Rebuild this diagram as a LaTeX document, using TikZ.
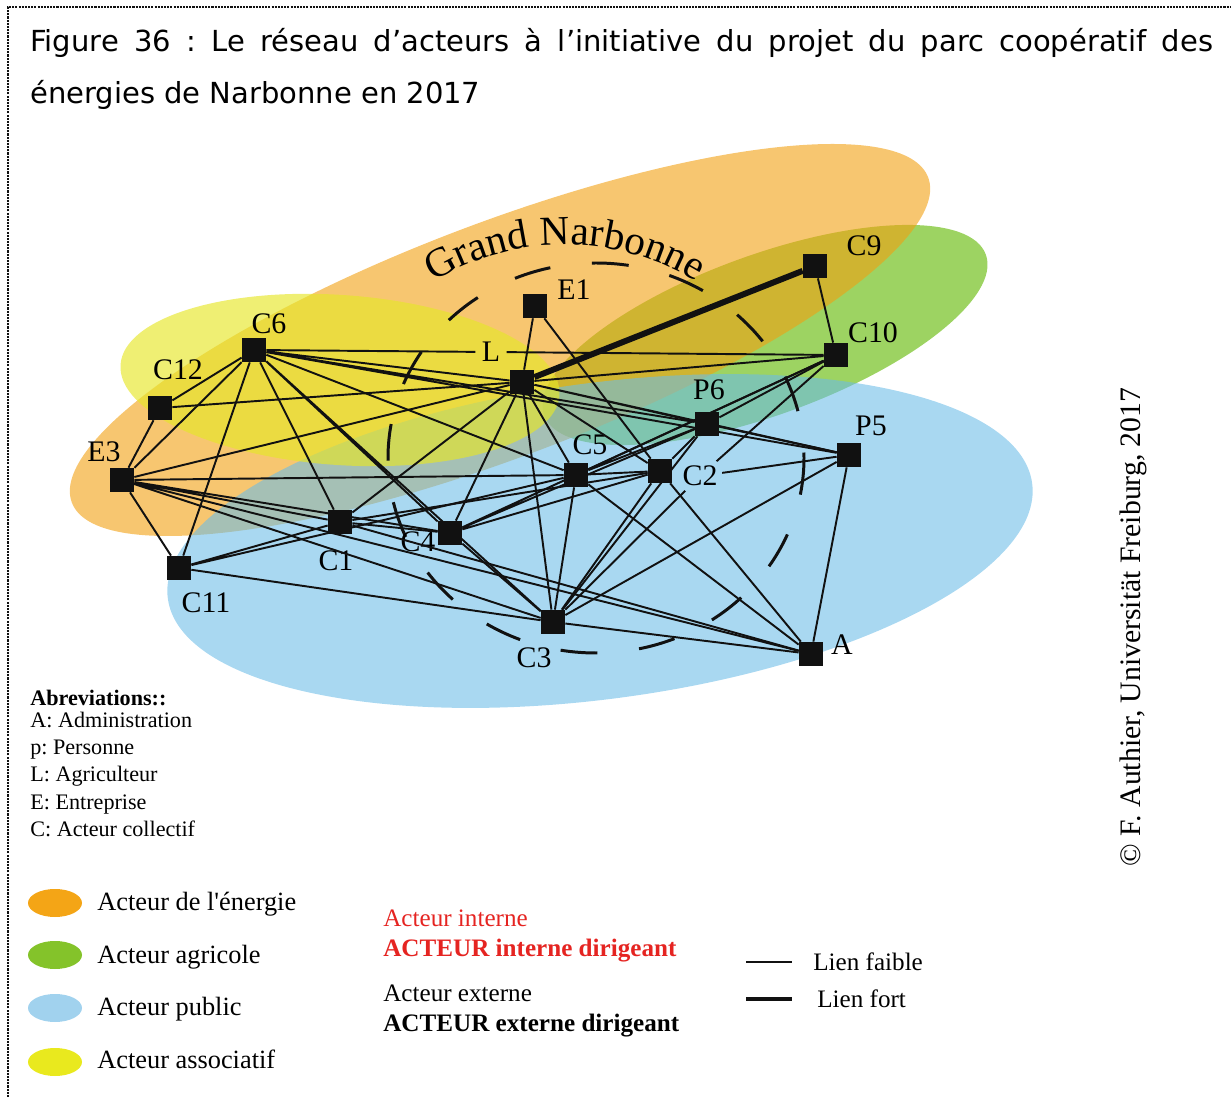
\documentclass[tikz,border=0pt]{standalone}
\usepackage{fontspec}
\setmainfont{Liberation Serif}
\newfontfamily\titlefont{DejaVu Sans}
\usetikzlibrary{decorations.text}
\frenchspacing
\definecolor{energie}{HTML}{F2A011}
\definecolor{agricole}{HTML}{73C01F}
\definecolor{public}{HTML}{6BBCE7}
\definecolor{associatif}{HTML}{E6E628}
\definecolor{energieleg}{HTML}{F4A516}
\definecolor{agricoleleg}{HTML}{84C32A}
\definecolor{publicleg}{HTML}{A1D2EE}
\definecolor{associatifleg}{HTML}{E9E91E}
\definecolor{interne}{HTML}{E52421}
\definecolor{ink}{HTML}{111111}
\newcommand{\actorfont}{\fontsize{17}{17}\selectfont}
\newcommand{\narbonnefont}{\fontsize{23.5}{23.5}\selectfont}
\newcommand{\legendfont}{\fontsize{15}{15}\selectfont}
\newcommand{\abbrfont}{\fontsize{12.6}{12.6}\selectfont}
\newcommand{\keyfont}{\fontsize{14.3}{14.3}\selectfont}
\newcommand{\creditfont}{\fontsize{16.9}{16.9}\selectfont}
\newcommand{\headfont}{\titlefont\fontsize{16.5}{16.5}\selectfont}
\tikzset{
  actor/.style={fill=ink, minimum size=0.48cm, inner sep=0pt},
  actorname/.style={font=\actorfont, inner sep=1.5pt},
  link/.style={draw=ink, line width=1.1pt},
  stronglink/.style={draw=ink, line width=3.4pt},
  ring/.style={draw=ink, line width=1.7pt, dash pattern=on 21pt off 23.86pt},
  frame/.style={draw=ink, line width=0.7pt, dash pattern=on 1.2pt off 0.6pt},
  keytext/.style={anchor=base west, inner sep=0pt},
}
\begin{document}
\begin{tikzpicture}[x=0.02cm, y=-0.02cm]
    \useasboundingbox (0,0) rectangle (1231,1097);
    \draw[frame] (8,1097) -- (8,7) -- (1231,7);
    \node[keytext, font=\headfont] (title1) at (30,52) {\makebox[23.66cm][s]{Figure 36 : Le réseau d’acteurs à l’initiative du projet du parc coopératif des}};
    \node[keytext, font=\headfont] (title2) at (30,104) {énergies de Narbonne en 2017};

    \fill[agricole, fill opacity=0.7, rotate around={20:(765,335)}] (765,335) ellipse [x radius=235, y radius=80];
    \fill[energie, fill opacity=0.6, rotate around={20.8:(500,340)}] (500,340) ellipse [x radius=458, y radius=117];
    \fill[public, fill opacity=0.58, rotate around={7.6:(600,541)}] (600,541) ellipse [x radius=436, y radius=158];
    \fill[associatif, fill opacity=0.65, rotate around={-4:(340,380)}] (340,380) ellipse [x radius=220, y radius=85];

    \draw[ring] (596,458) ellipse [x radius=208, y radius=195];
    \path[decorate, decoration={text along path, text align=center,
      text={|\narbonnefont|Grand Narbonne}}] (388,318) arc [start angle=-135, end angle=-45, radius=250];

    \node[actor] (C6) at (254,350) {};
    \node[actor] (C12) at (160,408) {};
    \node[actor] (E3) at (122,480) {};
    \node[actor] (C11) at (179,568) {};
    \node[actor] (C1) at (340,522) {};
    \node[actor] (C4) at (450,533) {};
    \node[actor] (L) at (522,382) {};
    \node[actor] (E1) at (535,306) {};
    \node[actor] (C9) at (815,266) {};
    \node[actor] (C10) at (836,355) {};
    \node[actor] (P6) at (707,424) {};
    \node[actor] (P5) at (849,455) {};
    \node[actor] (C5) at (576,475) {};
    \node[actor] (C2) at (660,471) {};
    \node[actor] (C3) at (553,622) {};
    \node[actor] (A) at (811,654) {};

    \node[actorname] (C6txt) at (269,324) {C6};
    \node[actorname] (C12txt) at (178,370) {C12};
    \node[actorname] (E3txt) at (104,452) {E3};
    \node[actorname] (C11txt) at (206,603) {C11};
    \node[actorname] (C1txt) at (336,561) {C1};
    \node[actorname] (C4txt) at (418,542) {C4};
    \node[actorname, inner sep=3.5pt] (Ltxt) at (491,352) {L};
    \node[actorname] (E1txt) at (574,290) {E1};
    \node[actorname] (C9txt) at (864,246) {C9};
    \node[actorname] (C10txt) at (873,333) {C10};
    \node[actorname] (P6txt) at (709,390) {P6};
    \node[actorname] (P5txt) at (871,426) {P5};
    \node[actorname] (C5txt) at (590,445) {C5};
    \node[actorname, inner sep=2.5pt] (C2txt) at (700,476) {C2};
    \node[actorname] (C3txt) at (534,658) {C3};
    \node[actorname] (Atxt) at (842,645) {A};

    \draw[link] (C12) -- (E3) (C12) -- (C6) (C12) -- (L);
    \draw[link] (C6) -- (E3) (C6) -- (C11) (C6) -- (C1) (C6) -- (C4) (C6) -- (C3) (C6) -- (C5)
      (C6) -- (L) (C6) -- (P6) (C6) -- (P5) (C6) -- (Ltxt) (Ltxt) -- (C10);
    \draw[link] (E3) -- (L) (E3) -- (C5) (E3) -- (C11) (E3) -- (C1) (E3) -- (C4) (E3) -- (C3) (E3) -- (A);
    \draw[link] (C11) -- (C1) (C11) -- (C5) (C11) -- (C3);
    \draw[link] (C1) -- (L) (C1) -- (C4) (C1) -- (C2) (C1) -- (A);
    \draw[link] (C4) -- (L) (C4) -- (C5) (C4) -- (C2) (C4) -- (P6) (C4) -- (C10) (C4) -- (C3);
    \draw[link] (L) -- (E1) (L) -- (C10) (L) -- (C3) (L) -- (C5) (L) -- (C2) (L) -- (P6) (L) -- (P5);
    \draw[link] (E1) -- (C2) (C9) -- (C10);
    \draw[link] (C5) -- (C2) (C5) -- (P6) (C5) -- (C10) (C5) -- (C3) (C5) -- (A);
    \draw[link] (C2) -- (P6) (C2) -- (C3) (C2) -- (A);
    \draw[link] (C3) -- (C2txt) (C2txt) -- (C10) (P5) -- (C2txt);
    \draw[link] (P6) -- (P5) (P6) -- (C10) (P6) -- (C3);
    \draw[link] (P5) -- (C3) (P5) -- (A) (C3) -- (A);
    \draw[stronglink] (L) -- (C9);

    \node[keytext, font=\abbrfont\bfseries] (abbr) at (30,706) {Abreviations::};
    \node[keytext, font=\abbrfont] (abbrA) at (30,728) {A: Administration};
    \node[keytext, font=\abbrfont] (abbrP) at (30,755) {p: Personne};
    \node[keytext, font=\abbrfont] (abbrL) at (30,782) {L: Agriculteur};
    \node[keytext, font=\abbrfont] (abbrE) at (30,809) {E: Entreprise};
    \node[keytext, font=\abbrfont] (abbrC) at (30,837) {C: Acteur collectif};

    \fill[energieleg] (55,903) ellipse [x radius=27, y radius=14];
    \fill[agricoleleg] (55,955) ellipse [x radius=27, y radius=14];
    \fill[publicleg] (55,1008) ellipse [x radius=27, y radius=14];
    \fill[associatifleg] (55,1062) ellipse [x radius=27, y radius=14];
    \node[keytext, font=\legendfont] (kenergie) at (97,910) {Acteur de l\textquotesingle énergie};
    \node[keytext, font=\legendfont] (kagricole) at (97,963) {Acteur agricole};
    \node[keytext, font=\legendfont] (kpublic) at (97,1015) {Acteur public};
    \node[keytext, font=\legendfont] (kassociatif) at (97,1068) {Acteur associatif};

    \node[keytext, font=\keyfont, text=interne] (kint) at (383,926) {Acteur interne};
    \node[keytext, font=\keyfont\bfseries, text=interne] (kintdir) at (383,956) {ACTEUR interne dirigeant};
    \node[keytext, font=\keyfont] (kext) at (383,1001) {Acteur externe};
    \node[keytext, font=\keyfont\bfseries] (kextdir) at (383,1031) {ACTEUR externe dirigeant};

    \draw[draw=ink, line width=0.8pt] (746,962) -- (792,962);
    \draw[draw=ink, line width=1.8pt] (746,999) -- (792,999);
    \node[keytext, font=\keyfont] (kfaible) at (813,970) {Lien faible};
    \node[keytext, font=\keyfont] (kfort) at (817,1007) {Lien fort};

    \node[rotate=90, font=\creditfont] (credit) at (1133,627) {© F. Authier, Universität Freiburg, 2017};
\end{tikzpicture}
\end{document}
